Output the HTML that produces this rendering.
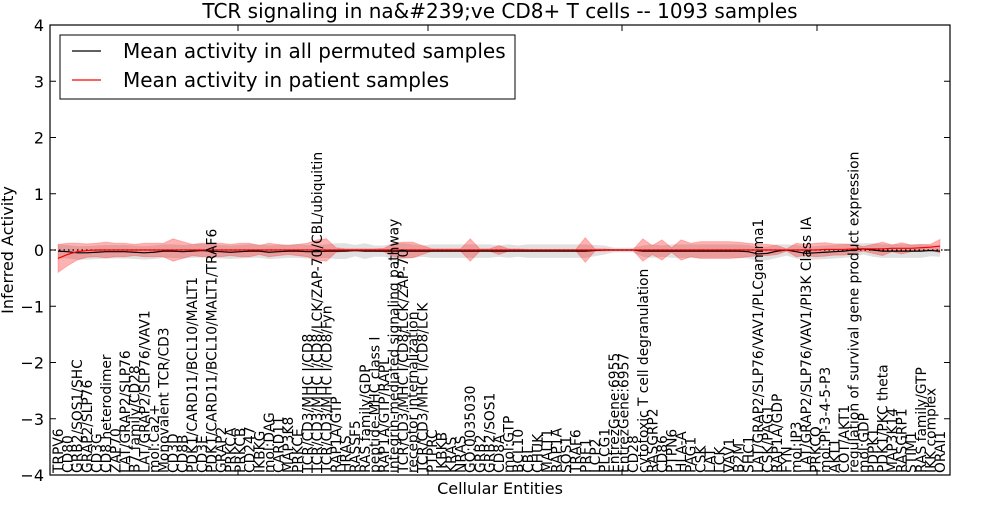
<!DOCTYPE html>
<html><head><meta charset="utf-8"><style>
body{margin:0;background:#fff;}
svg text{font-family:"DejaVu Sans","Liberation Sans",sans-serif;}
</style></head><body>
<svg id="chart" width="1000" height="500" xmlns="http://www.w3.org/2000/svg">
<rect width="1000" height="500" fill="#fff"/>
<text x="500" y="18" text-anchor="middle" font-size="20">TCR signaling in na&amp;#239;ve CD8+ T cells -- 1093 samples</text>
<g id="bands"></g>
<g id="lines"></g>
<g id="labels"></g>
<g id="ticks"></g>
<rect x="50" y="25" width="900" height="450" fill="none" stroke="#000" stroke-width="1.2"/>
<text transform="translate(13,250) rotate(-90)" text-anchor="middle" font-size="16">Inferred Activity</text>
<text x="500" y="494" text-anchor="middle" font-size="16">Cellular Entities</text>
<g>
<rect x="60" y="35" width="455" height="64" fill="#fff" stroke="#000" stroke-width="1"/>
<line x1="72" y1="51" x2="101" y2="51" stroke="#000" stroke-width="1.2"/>
<text x="123" y="58" font-size="20">Mean activity in all permuted samples</text>
<line x1="72" y1="80" x2="101" y2="80" stroke="#f00" stroke-width="1.2"/>
<text x="123" y="87" font-size="20">Mean activity in patient samples</text>
</g>
</svg>
<script>
const categories=["TRPV6","CD80","GRB2/SOS1/SHC","GRAP2/SLP76","CD3G","CD8 heterodimer","ZAP70","LAT/GRAP2/SLP76","B7 family/CD28","LAT/GRAP2/SLP76/VAV1","mol:Ca2+","Monovalent TCR/CD3","CD3D","CD8B","PDK1/CARD11/BCL10/MALT1","CD3E","PDK1/CARD11/BCL10/MALT1/TRAF6","GRAP2","PRKCA","PRKCB","CD247","IKBKG","mol:DAG","CARD11","MAP3K8","PRKCE","TCR/CD3/MHC I/CD8","TCR/CD3/MHC I/CD8/LCK/ZAP-70/CBL/ubiquitin","TCR/CD3/MHC I/CD8/Fyn","RAP1A/GTP","HRAS","RASSF5","RAS family/GDP","peptide-MHC class I","RAP1A/GTP/RAPL","integrin-mediated signaling pathway","TCR/CD3/MHC I/CD8/LCK/ZAP-70","receptor internalization","TCR/CD3/MHC I/CD8/LCK","PTPRC","IKBKB","KRAS","NRAS","GO:0035030","GRB2","GRB2/SOS1","CD8A","mol:GTP","BCL10","CBL","CHUK","MALT1","RAP1A","SOS1","TRAF6","PRF1","LCP2","PLCG1","EntrezGene:6955","EntrezGene:6957","CD28","cytotoxic T cell degranulation","RASGRP2","CD86","PTPN6","HLA-A","PAG1","CSK","LAT","LCK","VAV1","B2M","SHC1","LAT/GRAP2/SLP76/VAV1/PLCgamma1","CSK/PAG1","RAP1A/GDP","FYN","mol:IP3","LAT/GRAP2/SLP76/VAV1/PI3K Class IA","PRKCQ","mol:PI-3-4-5-P3","AKT1","COT/AKT1","regulation of survival gene product expression","mol:GDP","PDPK1","PDK1/PKC theta","MAP3K14","RASGRP1","STIM1","RAS family/GTP","IKK complex","ORAI1"];
const patientMean=[-0.15,-0.08,-0.03,-0.01,0,0,0,0,0,0,0,0,0,0,0,0,0,0,0,0,0,0,0,0,0,0,0,0,0,0,0,0,0,0,0,0,0,0,0,0,0,0,0,0,0,0,0,0,0,0,0,0,0,0,0,0,0,0,0,0,0,0,0,0,0,0,0,0,0,0,0,0,0,0,0,0,0,0,0,0,0.01,0.01,0.01,0.02,0.02,0.02,0.02,0.03,0.03,0.03,0.04,0.05,0.07];
const permMean=[-0.02,-0.03,-0.05,-0.05,-0.04,-0.03,-0.03,-0.03,-0.04,-0.05,-0.04,-0.02,-0.02,-0.03,-0.02,-0.01,-0.02,-0.03,-0.04,-0.03,-0.02,-0.02,-0.04,-0.03,-0.02,-0.02,-0.03,-0.03,-0.02,-0.02,-0.02,-0.01,-0.02,-0.02,-0.02,-0.02,-0.02,-0.02,-0.02,-0.02,-0.02,-0.02,-0.02,-0.02,-0.02,-0.02,-0.02,-0.02,-0.02,-0.02,-0.02,-0.02,-0.02,-0.02,-0.02,-0.02,-0.01,0,0,0,0,-0.02,-0.02,-0.02,-0.02,-0.02,-0.02,-0.02,-0.02,-0.02,-0.02,-0.02,-0.03,-0.07,-0.06,-0.02,0,-0.03,-0.06,-0.05,-0.04,-0.03,-0.02,0,0.02,0,-0.02,-0.02,-0.02,-0.02,-0.02,-0.01,-0.02];
const patientSpread=[0.25,0.2,0.15,0.12,0.12,0.14,0.12,0.12,0.1,0.12,0.12,0.12,0.2,0.15,0.1,0.12,0.12,0.12,0.1,0.12,0.12,0.08,0.12,0.1,0.08,0.1,0.12,0.18,0.2,0.04,0.02,0.02,0.02,0.02,0.03,0.12,0.14,0.14,0.08,0.02,0.02,0.02,0.02,0.2,0.02,0.02,0.08,0.02,0.02,0.01,0.01,0.01,0.01,0.01,0.01,0.22,0.02,0.02,0.01,0.01,0.01,0.2,0.08,0.18,0.04,0.18,0.12,0.15,0.15,0.15,0.15,0.14,0.12,0.1,0.1,0.08,0.02,0.12,0.1,0.12,0.12,0.1,0.1,0.08,0.04,0.08,0.12,0.06,0.1,0.06,0.06,0.05,0.12];
const permSpread=[0.12,0.12,0.12,0.12,0.12,0.12,0.12,0.12,0.12,0.12,0.12,0.12,0.12,0.12,0.12,0.12,0.12,0.12,0.12,0.12,0.12,0.12,0.12,0.12,0.12,0.12,0.12,0.12,0.12,0.14,0.14,0.1,0.14,0.1,0.1,0.14,0.14,0.12,0.1,0.12,0.12,0.12,0.12,0.12,0.12,0.12,0.1,0.12,0.1,0.12,0.12,0.12,0.12,0.12,0.12,0.12,0.1,0.08,0.04,0.04,0.04,0.1,0.12,0.1,0.12,0.12,0.12,0.12,0.12,0.12,0.12,0.12,0.12,0.12,0.12,0.12,0.1,0.12,0.12,0.12,0.12,0.12,0.12,0.12,0.1,0.12,0.12,0.12,0.12,0.12,0.12,0.1,0.1];
const yTicks=[-4,-3,-2,-1,0,1,2,3,4];
const NS="http://www.w3.org/2000/svg";
const X0=58,X1=940,YT=25,YB=475,YMIN=-4,YMAX=4;
const xs=i=>X0+i*(X1-X0)/(categories.length-1);
const ys=v=>YB-(v-YMIN)/(YMAX-YMIN)*(YB-YT);
function mk(tag,attrs,parent){const e=document.createElementNS(NS,tag);for(const k in attrs)e.setAttribute(k,attrs[k]);document.getElementById(parent).appendChild(e);return e;}
function band(mean,spr){let up=mean.map((m,i)=>xs(i)+","+ys(m+spr[i]));let lo=mean.map((m,i)=>xs(i)+","+ys(m-spr[i])).reverse();return up.concat(lo).join(" ");}
let b1=mk("polygon",{points:band(permMean,permSpread),fill:"#bbb","fill-opacity":"0.45",stroke:"none"},"bands");


let b2=mk("polygon",{points:band(patientMean,patientSpread),fill:"#f00","fill-opacity":"0.3",stroke:"#f00","stroke-opacity":"0.2"},"bands");


let z=mk("line",{x1:50,x2:950,y1:ys(0),y2:ys(0),stroke:"#000","stroke-dasharray":"1.5,3","stroke-width":1.2},"lines");


let l1=mk("polyline",{points:permMean.map((m,i)=>xs(i)+","+ys(m)).join(" "),fill:"none",stroke:"#000","stroke-width":1.2},"lines");


let l2=mk("polyline",{points:patientMean.map((m,i)=>xs(i)+","+ys(m)).join(" "),fill:"none",stroke:"#f00","stroke-width":1.2},"lines");


categories.forEach((c,i)=>{
 const t=mk("text",{transform:"translate("+(xs(i)+5)+",473) rotate(-90)","font-size":"13.8"},"labels");
 t.textContent=c;
 
 
});
yTicks.forEach(v=>{
 const y=ys(v);
 mk("line",{x1:50,x2:56,y1:y,y2:y,stroke:"#000"},"ticks");
 mk("line",{x1:944,x2:950,y1:y,y2:y,stroke:"#000"},"ticks");
 const t=mk("text",{x:44,y:y+6,"text-anchor":"end","font-size":"16"},"ticks");
 t.textContent=(v<0?"\u2212"+(-v):""+v);
 
 
});
[238,428,622,817].forEach(x=>{mk("line",{x1:x,x2:x,y1:25,y2:31,stroke:"#000"},"ticks");mk("line",{x1:x,x2:x,y1:469,y2:475,stroke:"#000"},"ticks");});
</script>
</body></html>
